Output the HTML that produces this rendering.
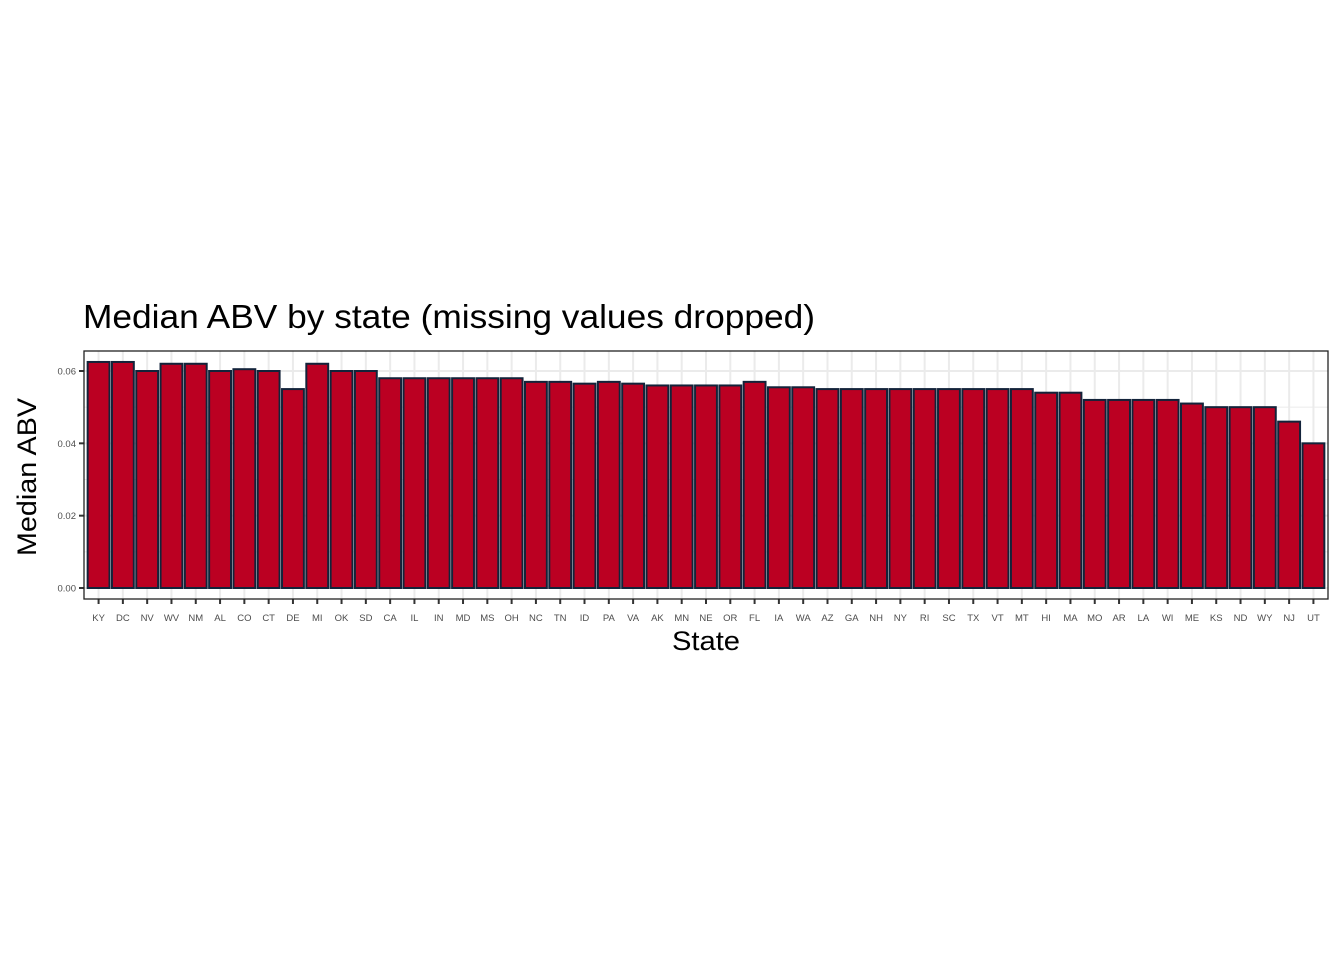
<!DOCTYPE html>
<html><head><meta charset="utf-8"><style>
body{margin:0;background:#fff;width:1344px;height:960px;overflow:hidden}
text{font-family:"Liberation Sans",Arial,sans-serif}
</style></head><body>
<svg id="chart" width="1344" height="960">
<text x="83" y="328" font-size="33" textLength="732" lengthAdjust="spacingAndGlyphs" fill="#000">Median ABV by state (missing values dropped)</text>
<text x="706" y="650" font-size="27" textLength="68" lengthAdjust="spacingAndGlyphs" text-anchor="middle" fill="#000">State</text>
<text transform="translate(36,477) rotate(-90)" font-size="27" textLength="158" lengthAdjust="spacingAndGlyphs" text-anchor="middle" fill="#000">Median ABV</text>
<g id="grid"></g><g id="bars"></g><g id="axes"></g>
</svg>
<script>
const states=["KY","DC","NV","WV","NM","AL","CO","CT","DE","MI","OK","SD","CA","IL","IN","MD","MS","OH","NC","TN","ID","PA","VA","AK","MN","NE","OR","FL","IA","WA","AZ","GA","NH","NY","RI","SC","TX","VT","MT","HI","MA","MO","AR","LA","WI","ME","KS","ND","WY","NJ","UT"];
const medianAbv=[0.0625,0.0625,0.060,0.062,0.062,0.060,0.0605,0.060,0.055,0.062,0.060,0.060,0.058,0.058,0.058,0.058,0.058,0.058,0.057,0.057,0.0565,0.057,0.0565,0.056,0.056,0.056,0.056,0.057,0.0555,0.0555,0.055,0.055,0.055,0.055,0.055,0.055,0.055,0.055,0.055,0.054,0.054,0.052,0.052,0.052,0.052,0.051,0.050,0.050,0.050,0.046,0.040];
const yTicks=[0,0.02,0.04,0.06];
const yTickLabels=["0.00","0.02","0.04","0.06"];
const yMinor=[0.01,0.03,0.05];
const NS="http://www.w3.org/2000/svg";
const L=84,R=1328,T=351,B=599;
const unit=(R-L)/(states.length+0.2);
const x=i=>L+(i+0.6)*unit;
const y=v=>588-v*(588-371)/0.06;
function mk(tag,attrs,parent){const e=document.createElementNS(NS,tag);for(const k in attrs)e.setAttribute(k,attrs[k]);parent.appendChild(e);return e;}
const grid=document.getElementById('grid'),bars=document.getElementById('bars'),axes=document.getElementById('axes');
mk('rect',{x:L,y:T,width:R-L,height:B-T,fill:'#fff'},grid);
yMinor.forEach(v=>{const l=mk('line',{x1:L,x2:R,y1:y(v),y2:y(v),stroke:'#ebebeb','stroke-width':1},grid);

});
yTicks.forEach(v=>{const l=mk('line',{x1:L,x2:R,y1:y(v),y2:y(v),stroke:'#ebebeb','stroke-width':2},grid);

});
states.forEach((s,i)=>{const l=mk('line',{x1:x(i),x2:x(i),y1:T,y2:B,stroke:'#ebebeb','stroke-width':2},grid);

});
states.forEach((s,i)=>{
const w=unit*0.9,v=medianAbv[i];
const r=mk('rect',{x:x(i)-w/2,y:y(v),width:w,height:y(0)-y(v),fill:'#bb0022',stroke:'#13233a','stroke-width':2},bars);


mk('line',{x1:x(i),x2:x(i),y1:B,y2:B+5,stroke:'#333','stroke-width':2},axes);
const t=mk('text',{x:x(i),y:621,'font-size':9.5,'text-anchor':'middle',fill:'#4d4d4d'},axes);t.textContent=s;


});
yTicks.forEach((v,i)=>{
mk('line',{x1:L-5,x2:L,y1:y(v),y2:y(v),stroke:'#333','stroke-width':2},axes);
const t=mk('text',{x:L-8,y:y(v)+3.5,'font-size':9.5,'text-anchor':'end',fill:'#4d4d4d'},axes);t.textContent=yTickLabels[i];


});
const p=mk('rect',{x:L,y:T,width:R-L,height:B-T,fill:'none',stroke:'#222','stroke-width':1.3},axes);


</script>
</body></html>
